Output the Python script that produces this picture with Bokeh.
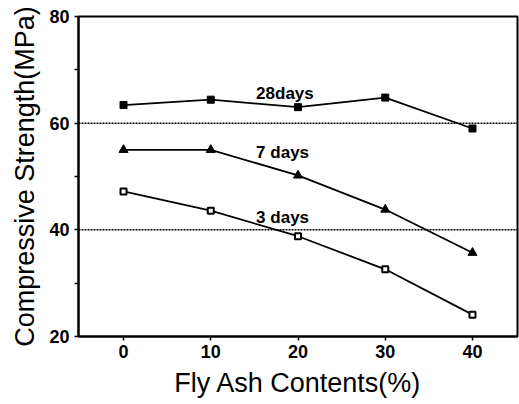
from bokeh.plotting import figure
from bokeh.models import Span, Range1d, FixedTicker, Label
from bokeh.embed import file_html
from bokeh.resources import INLINE

fly_ash = [0, 10, 20, 30, 40]
days28 = [63.4, 64.4, 63.0, 64.8, 59.0]
days7 = [55.0, 55.0, 50.2, 43.8, 35.7]
days3 = [47.2, 43.6, 38.8, 32.6, 24.1]
y_ticks = [20, 30, 40, 50, 60, 70, 80]
y_tick_labels = {20: "20", 30: "", 40: "40", 50: "", 60: "60", 70: "", 80: "80"}
x_ticks = [0, 10, 20, 30, 40]
grid_levels = [40, 60]
series_labels = [("28days", 15.2, 65.6), ("7 days", 15.2, 54.5), ("3 days", 15.2, 42.3)]

FONT = "Liberation Sans"

p = figure(frame_width=439, frame_height=320, output_backend="svg", toolbar_location=None,
           x_range=Range1d(-5.16, 45.16), y_range=Range1d(20, 80),
           min_border_left=78, min_border_right=2, min_border_top=16, min_border_bottom=68)
p.background_fill_color = "white"
p.border_fill_color = "white"
p.outline_line_color = "black"
p.outline_line_width = 2
p.xgrid.visible = False
p.ygrid.visible = False

for ax in (p.xaxis[0], p.yaxis[0]):
    ax.axis_line_width = 2
    ax.axis_line_color = "black"
    ax.major_tick_line_width = 1.5
    ax.major_tick_out = 4
    ax.major_tick_in = 0
    ax.minor_tick_line_color = None
    ax.major_label_text_font = FONT
    ax.major_label_text_font_style = "bold"
    ax.major_label_text_font_size = "18px"
    ax.major_label_text_color = "black"
    ax.axis_label_text_font = FONT
    ax.axis_label_text_font_style = "normal"
    ax.axis_label_text_font_size = "27px"
    ax.axis_label_text_color = "black"

p.yaxis.ticker = FixedTicker(ticks=y_ticks)
p.yaxis.major_label_overrides = y_tick_labels
p.xaxis.ticker = FixedTicker(ticks=x_ticks)
p.xaxis.axis_label = "Fly Ash Contents(%)"
p.yaxis.axis_label = "Compressive Strength(MPa)"
p.xaxis.major_label_standoff = 4
p.yaxis.major_label_standoff = 5
p.xaxis.axis_label_standoff = 7
p.yaxis.axis_label_standoff = 6

for lv in grid_levels:
    p.add_layout(Span(location=lv, dimension="width", line_color="black",
                      line_dash="2 1", line_width=1.5))

p.line(fly_ash, days28, line_color="black", line_width=1.8)
p.scatter(fly_ash, days28, marker="square", size=7, fill_color="black", line_color="black")

p.line(fly_ash, days7, line_color="black", line_width=1.8)
p.scatter(fly_ash, days7, marker="triangle", size=9, fill_color="black", line_color="black")

p.line(fly_ash, days3, line_color="black", line_width=1.8)
p.scatter(fly_ash, days3, marker="square", size=6, fill_color="white", line_color="black", line_width=2)

for txt, xx, yy in series_labels:
    p.add_layout(Label(x=xx, y=yy, text=txt, text_font=FONT, text_font_style="bold",
                       text_font_size="17px", text_color="black", text_baseline="alphabetic"))

open("out.html", "w").write(file_html(p, INLINE))
